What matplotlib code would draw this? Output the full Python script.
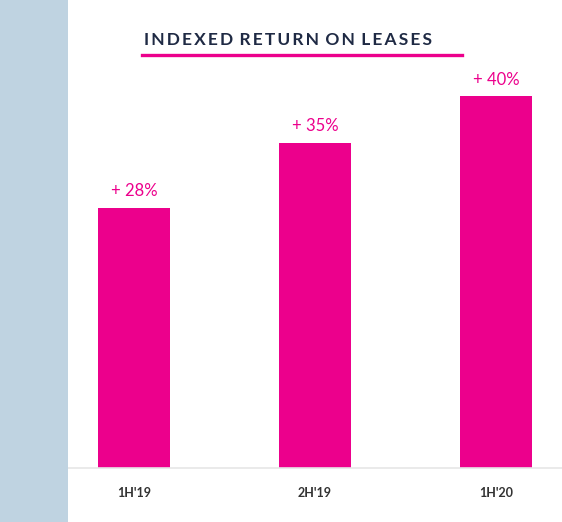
import matplotlib
matplotlib.use('Agg')
import matplotlib.pyplot as plt
import matplotlib.patches as mpatches

plt.rcParams['font.family'] = ['Lato', 'DejaVu Sans']

periods = ["1H'19", "2H'19", "1H'20"]
returns = [28, 35, 40]
labels = ['+ 28%', '+ 35%', '+ 40%']
title = 'INDEXED RETURN ON LEASES'

pink = '#EC008C'
navy = '#1F2A44'

fig = plt.figure(figsize=(5.62, 5.22), dpi=100)
fig.patch.set_facecolor('white')

# blue strip on the left
fig.patches.append(mpatches.Rectangle((0, 0), 68 / 562, 1, transform=fig.transFigure,
                                      facecolor='#BFD3E1', edgecolor='none', zorder=0))

ax = fig.add_axes([68 / 562, 54 / 522, 494 / 562, 468 / 522])
ax.set_facecolor('none')
x = range(len(periods))
ax.bar(x, returns, width=0.4, color=pink, zorder=2)
ax.set_xlim(-0.365, 2.365)
ax.set_ylim(0, 468 / 9.3)

for xi, v, lab in zip(x, returns, labels):
    ax.annotate(lab, (xi, v), xytext=(0, 6), textcoords='offset points',
                ha='center', va='bottom', color=pink, fontsize=12)

for s in ['top', 'right', 'left']:
    ax.spines[s].set_visible(False)
ax.spines['bottom'].set_color('#E6E6E6')
ax.spines['bottom'].set_linewidth(1.2)
ax.set_yticks([])
ax.set_xticks(list(x))
ax.set_xticklabels(periods, fontsize=9, fontweight='bold', color='#333333')
ax.tick_params(axis='x', length=0, pad=14)

# spaced-out title with pink underline
spaced = '\u2009'.join(title).replace('\u2009 \u2009', '\u2009\u2009\u2009')
fig.text(288 / 562, 1 - 40 / 522, spaced, ha='center', va='center',
         fontsize=12.5, fontweight='bold', color=navy)
fig.add_artist(plt.Line2D([142 / 562, 462 / 562], [1 - 55 / 522, 1 - 55 / 522],
                          transform=fig.transFigure, color=pink, linewidth=2.4))

fig.savefig('out.png', dpi=100)
